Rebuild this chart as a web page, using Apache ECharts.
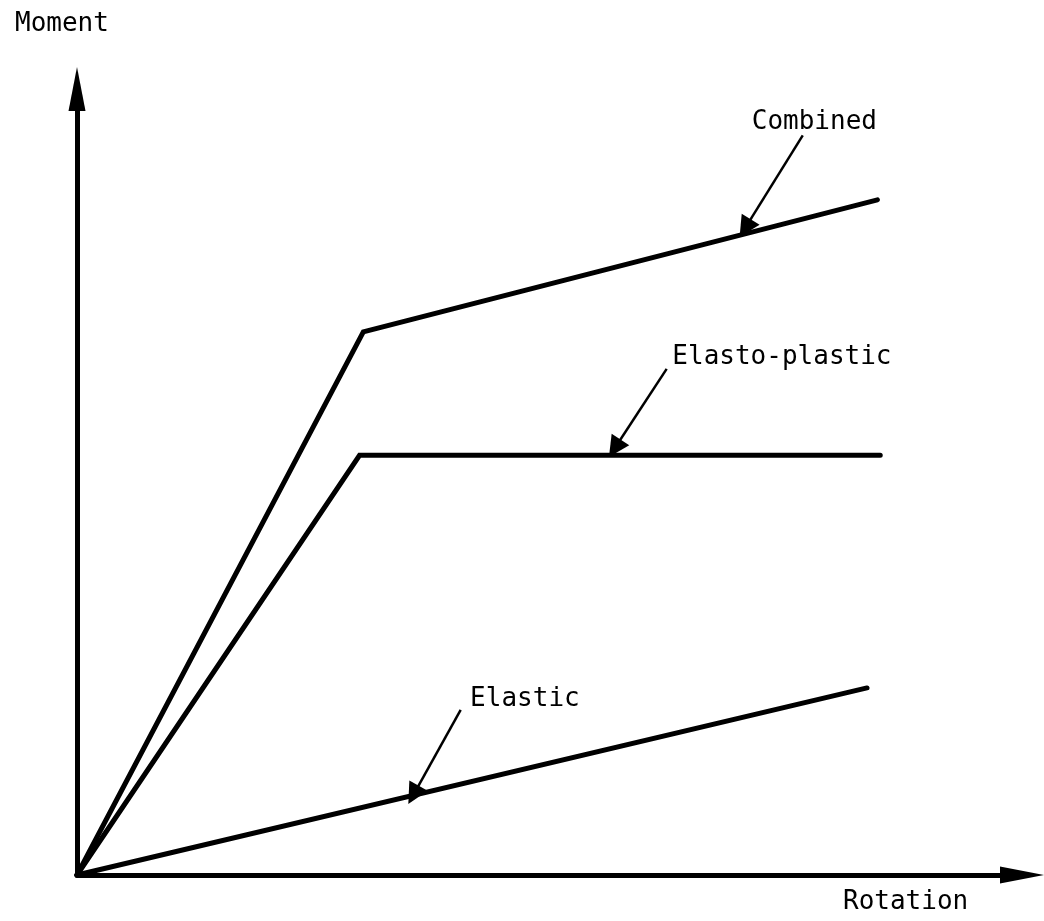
<!DOCTYPE html>
<html>
<head>
<meta charset="utf-8"/>
<title>Moment - Rotation</title>
<script src="https://cdn.jsdelivr.net/npm/echarts@6/dist/echarts.min.js"></script>
<style>
html,body{margin:0;padding:0;background:#fff;}
#main{width:1044px;height:921px;}
</style>
</head>
<body>
<div id="main"></div>
<script type="text/javascript">
// curves: [rotation, moment]
var combined = [[0, 0], [30.3, 69.1], [84.7, 85.9]];
var elastoPlastic = [[0, 0], [29.9, 53.4], [85.0, 53.4]];
var elastic = [[0, 0], [83.6, 23.8]];

// label text and where it sits
var labelNames = ['Combined', 'Elasto-plastic', 'Elastic'];
var labelPos = [[71.4, 95.8], [63.0, 65.9], [41.6, 22.3]];
// leader arrows: start near label -> tip on curve
var leaderFrom = [[76.8, 94.1], [62.4, 64.4], [40.6, 21.0]];
var leaderTo = [[70.7, 82.3], [56.9, 54.3], [35.6, 10.2]];

var font = '"DejaVu Sans Mono", "Liberation Mono", monospace';

var myChart = echarts.init(document.getElementById('main'));

var labelData = labelNames.map(function (n, i) {
    return [labelPos[i][0], labelPos[i][1], n];
});
var leaderData = leaderFrom.map(function (p, i) {
    return { coords: [p, leaderTo[i]] };
});

function curve(name, data) {
    return {
        name: name,
        type: 'line',
        data: data,
        symbol: 'none',
        silent: true,
        lineStyle: { color: '#000', width: 5, cap: 'round', join: 'miter' },
        z: 3
    };
}

var axisStyle = {
    type: 'value', min: 0, max: 100,
    axisLine: { show: true, symbol: ['none', 'triangle'], symbolSize: [17, 44],
                lineStyle: { color: '#000', width: 5 } },
    axisTick: { show: false }, axisLabel: { show: false }, splitLine: { show: false }
};

var option = {
    animation: false,
    backgroundColor: '#fff',
    title: [
        { text: 'Moment', left: 10, top: 6,
          textStyle: { fontFamily: font, fontSize: 26, fontWeight: 'normal', color: '#000' } },
        { text: 'Rotation', left: 838, top: 884,
          textStyle: { fontFamily: font, fontSize: 26, fontWeight: 'normal', color: '#000' } }
    ],
    grid: { left: 77, right: 22, top: 89, bottom: 46, containLabel: false },
    xAxis: axisStyle,
    yAxis: axisStyle,
    series: [
        curve('Combined', combined),
        curve('Elasto-plastic', elastoPlastic),
        curve('Elastic', elastic),
        {
            type: 'lines',
            coordinateSystem: 'cartesian2d',
            data: leaderData,
            symbol: ['none', 'triangle'],
            symbolSize: [17, 21],
            silent: true,
            lineStyle: { color: '#000', width: 2.5, opacity: 1, curveness: 0 },
            z: 4
        },
        {
            type: 'scatter',
            data: labelData,
            symbolSize: 0,
            silent: true,
            itemStyle: { opacity: 1, color: '#000' },
            label: {
                show: true,
                position: 'right',
                distance: 0,
                formatter: function (p) { return p.data[2]; },
                fontFamily: font,
                fontSize: 26,
                color: '#000',
                opacity: 1
            }
        }
    ]
};

myChart.setOption(option);
window.onresize = function () { myChart.resize(); };
</script>
</body>
</html>
